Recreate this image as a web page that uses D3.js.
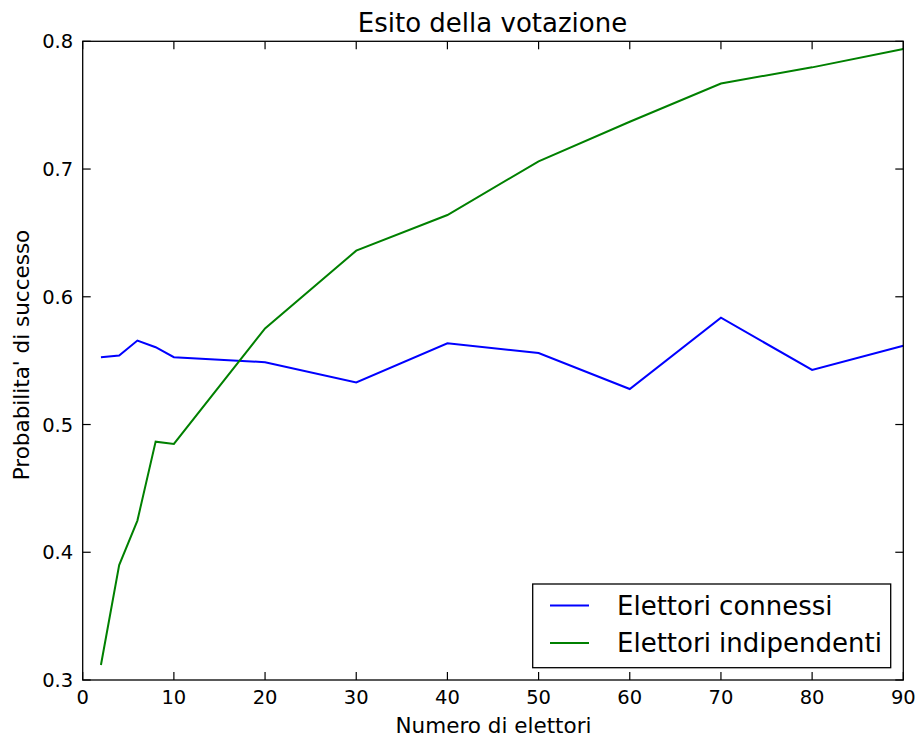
<!DOCTYPE html>
<html><head><meta charset="utf-8">
<script src="https://cdn.jsdelivr.net/npm/d3@7"></script>
<style>body{margin:0;background:#fff;} svg{display:block;} text{font-family:"DejaVu Sans",sans-serif;fill:#000;}</style>
</head><body><svg id="c" width="922" height="740"></svg>
<script>
const xValues = [2,4,6,8,10,20,30,40,50,60,70,80,90];
const connessi = [0.5527,0.554,0.5657,0.5605,0.5527,0.5488,0.533,0.5636,0.556,0.5278,0.5836,0.5427,0.5617];
const indipendenti = [0.3117,0.390,0.4248,0.4866,0.4848,0.5752,0.6361,0.664,0.706,0.737,0.767,0.7796,0.794];
const xTicks = [0,10,20,30,40,50,60,70,80,90];
const yTicks = [0.3,0.4,0.5,0.6,0.7,0.8];
const seriesNames = ["Elettori connessi","Elettori indipendenti"];
const seriesColors = ["#0000ff","#008000"];

const svg = d3.select("#c");
const L=82.7,R=903.3,T=41.3,B=680;
const x = d3.scaleLinear().domain([0,90]).range([L,R]);
const y = d3.scaleLinear().domain([0.3,0.8]).range([B,T]);

const g = svg.append("g");
const line = d3.line().x(d=>x(d[0])).y(d=>y(d[1]));
[connessi, indipendenti].forEach((s,i)=>{
  g.append("path").datum(xValues.map((v,j)=>[v,s[j]]))
   .attr("d",line).attr("fill","none").attr("stroke",seriesColors[i]).attr("stroke-width",2);
});
g.append("rect").attr("x",L).attr("y",T).attr("width",R-L).attr("height",B-T)
 .attr("fill","none").attr("stroke","#000").attr("stroke-width",1.3);
const tl=8;
const ax = g.append("g");
xTicks.forEach(t=>{
  ax.append("line").attr("x1",x(t)).attr("x2",x(t)).attr("y1",B).attr("y2",B-tl).attr("stroke","#000").attr("stroke-width",1.2);
  ax.append("line").attr("x1",x(t)).attr("x2",x(t)).attr("y1",T).attr("y2",T+tl).attr("stroke","#000").attr("stroke-width",1.2);
  ax.append("text").attr("x",x(t)).attr("y",703.5).attr("text-anchor","middle").attr("font-size",19.5).text(t);
});
yTicks.forEach(t=>{
  ax.append("line").attr("x1",L).attr("x2",L+tl).attr("y1",y(t)).attr("y2",y(t)).attr("stroke","#000").attr("stroke-width",1.2);
  ax.append("line").attr("x1",R).attr("x2",R-tl).attr("y1",y(t)).attr("y2",y(t)).attr("stroke","#000").attr("stroke-width",1.2);
  ax.append("text").attr("x",L-9.5).attr("y",y(t)).attr("dy","0.36em").attr("text-anchor","end").attr("font-size",19.5).text(d3.format(".1f")(t));
});
svg.append("text").attr("x",(L+R)/2-0.5).attr("y",31.5).attr("text-anchor","middle").attr("font-size",26).text("Esito della votazione");
svg.append("text").attr("x",493.5).attr("y",733).attr("text-anchor","middle").attr("font-size",21.5).text("Numero di elettori");
svg.append("text").attr("transform",`translate(28.5,355) rotate(-90)`).attr("text-anchor","middle").attr("font-size",21.5).text("Probabilita' di successo");
const lg = svg.append("g");
lg.append("rect").attr("x",532.7).attr("y",584).attr("width",358).attr("height",83.7).attr("fill","#fff").attr("stroke","#000").attr("stroke-width",1.3);
seriesNames.forEach((n,i)=>{
  const yy = 605.5 + i*37.5;
  lg.append("line").attr("x1",550).attr("x2",589).attr("y1",yy).attr("y2",yy).attr("stroke",seriesColors[i]).attr("stroke-width",2);
  lg.append("text").attr("x",617).attr("y",yy).attr("dy","0.36em").attr("font-size",26).text(n);
});
</script></body></html>
